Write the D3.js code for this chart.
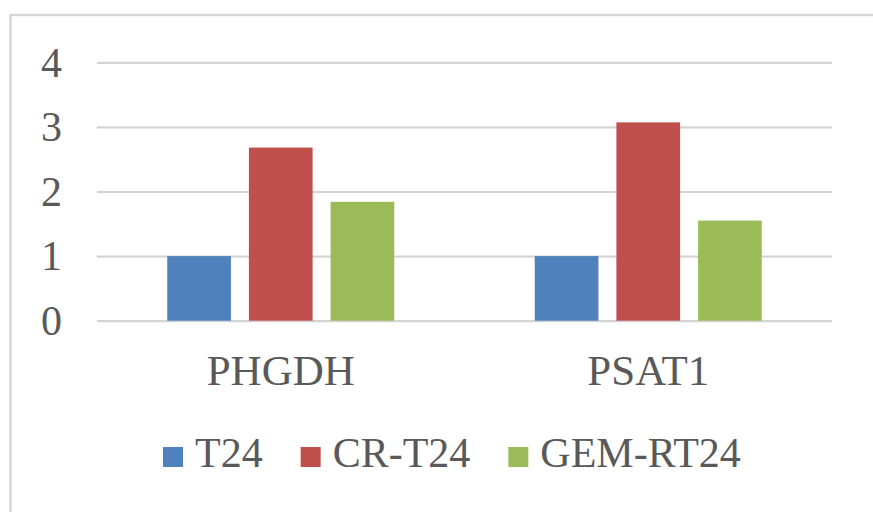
<!DOCTYPE html>
<html>
<head>
<meta charset="utf-8">
<script src="https://cdn.jsdelivr.net/npm/d3@7"></script>
<style>
  html, body { margin: 0; padding: 0; background: #fff; }
  svg { display: block; }
</style>
</head>
<body>
<svg id="chart" width="873" height="512"></svg>
<script>
const categories = ["PHGDH", "PSAT1"];
const seriesNames = ["T24", "CR-T24", "GEM-RT24"];
const seriesColors = ["#4f81bd", "#c0504d", "#9bbb59"];
const valuesT24 = [1, 1];
const valuesCRT24 = [2.68, 3.07];
const valuesGEMRT24 = [1.84, 1.55];
const yTicks = [0, 1, 2, 3, 4];

const seriesValues = [valuesT24, valuesCRT24, valuesGEMRT24];
const FONT = '"Liberation Serif", "Noto Serif", serif';
const TEXT_COLOR = "#595959";

const svg = d3.select("#chart");

// outer chart border
svg.append("rect")
  .attr("x", 10.5).attr("y", 15)
  .attr("width", 900).attr("height", 560)
  .attr("fill", "none")
  .attr("stroke", "#d6d6d6")
  .attr("stroke-width", 2.5);

const plot = { left: 97, right: 832, top: 62.3, bottom: 320.7 };

const y = d3.scaleLinear().domain([0, 4]).range([plot.bottom, plot.top]);
const x0 = d3.scaleBand().domain(categories).range([plot.left, plot.right]).padding(0);
const x1 = d3.scaleBand().domain(seriesNames).range([0, x0.bandwidth()])
  .paddingInner(0.22).paddingOuter(0.86);

// gridlines + tick labels
const yAxis = d3.axisLeft(y).tickValues(yTicks)
  .tickSize(-(plot.right - plot.left)).tickFormat(d3.format("d")).tickPadding(35);
const gAxis = svg.append("g").attr("transform", `translate(${plot.left},0)`).call(yAxis);
gAxis.select(".domain").remove();
gAxis.selectAll(".tick line").attr("stroke", "#d4d4d4").attr("stroke-width", 2.2);
gAxis.selectAll(".tick text")
  .style("font-family", FONT)
  .style("font-size", "42px")
  .style("fill", TEXT_COLOR)
  .attr("dy", "0.33em");

// bars
const groups = svg.append("g").selectAll("g")
  .data(categories)
  .join("g")
  .attr("transform", d => `translate(${x0(d)},0)`);

groups.selectAll("rect")
  .data((c, ci) => seriesNames.map((s, si) => ({ s, si, v: seriesValues[si][ci] })))
  .join("rect")
  .attr("x", d => x1(d.s))
  .attr("width", x1.bandwidth())
  .attr("y", d => y(d.v))
  .attr("height", d => y(0) - y(d.v))
  .attr("fill", d => seriesColors[d.si]);

// category labels
svg.append("g").selectAll("text")
  .data(categories)
  .join("text")
  .attr("x", d => x0(d) + x0.bandwidth() / 2)
  .attr("y", 385)
  .attr("text-anchor", "middle")
  .style("font-family", FONT)
  .style("font-size", "43px")
  .style("fill", TEXT_COLOR)
  .text(d => d);

// legend
const legend = svg.append("g");
let lx = 163;
const baseY = 467;
seriesNames.forEach((name, i) => {
  legend.append("rect")
    .attr("x", lx).attr("y", baseY - 20)
    .attr("width", 20).attr("height", 20)
    .attr("fill", seriesColors[i]);
  const t = legend.append("text")
    .attr("x", lx + 32).attr("y", baseY)
    .style("font-family", FONT)
    .style("font-size", "42px")
    .style("fill", TEXT_COLOR)
    .text(name);
  const w = t.node().getComputedTextLength();
  lx = lx + 32 + w + 38;
});
</script>
</body>
</html>
